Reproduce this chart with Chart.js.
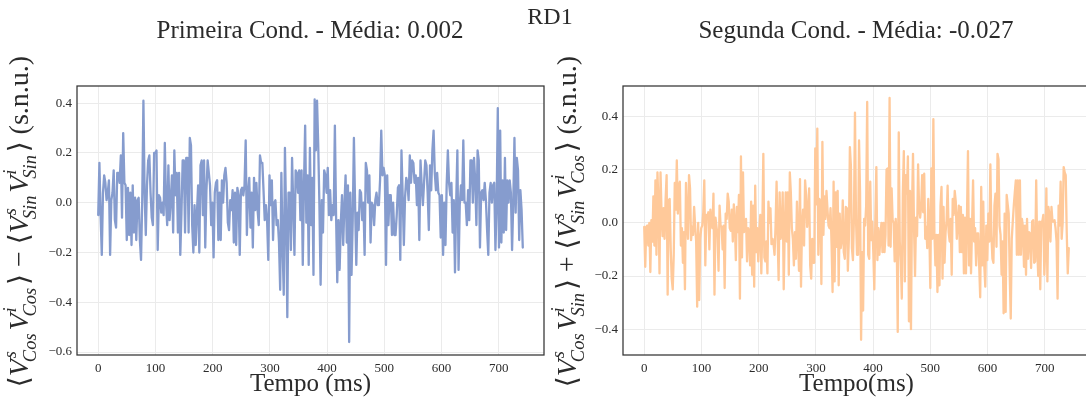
<!DOCTYPE html>
<html>
<head>
<meta charset="utf-8">
<script src="https://cdn.jsdelivr.net/npm/chart.js@4.4.1/dist/chart.umd.min.js"></script>
<style>
  html, body { margin: 0; padding: 0; background: #fff; overflow: hidden; }
  #wrap { position: relative; width: 1086px; height: 403px; }
  canvas { position: absolute; left: 0; top: 0; }
</style>
</head>
<body>
<div id="wrap">
  <canvas id="cond1" width="1098" height="403"></canvas>
  <canvas id="cond2" width="1098" height="403"></canvas>
</div>
<script>
// record length in ms, samples are evenly spaced over it
const RECORD_MS = 742;

// Primeira Cond.: <VsCos ViCos> - <VsSin ViSin>
const primeiraCond = [
  -0.05, 0.16, -0.05, -0.21, 0.04, 0.11, 0.08, 0.01, 0.04, 0.09,
  -0.21, 0.01, 0.04, 0.13, -0.07, -0.10, 0.12, 0.12, 0.08, 0.19,
  -0.06, 0.28, 0.08, 0.07, -0.15, 0.06, -0.13, 0.04, -0.17, 0.07,
  -0.12, 0.02, -0.15, 0.01, 0.02, -0.15, -0.23, 0.01, 0.41, 0.04,
  -0.13, 0.07, 0.17, 0.19, 0.04, -0.06, -0.09, 0.20, 0.20, 0.21,
  -0.19, 0.03, 0.02, -0.04, 0.00, -0.05, 0.24, 0.00, -0.09, 0.15,
  -0.07, 0.01, 0.11, -0.12, 0.21, 0.03, 0.12, -0.12, 0.12, -0.21,
  -0.04, 0.17, 0.17, -0.12, 0.18, 0.18, -0.12, 0.26, 0.23, -0.09,
  -0.20, -0.01, -0.17, -0.04, 0.07, -0.20, 0.15, 0.17, -0.05, 0.17,
  -0.18, 0.05, 0.17, 0.12, 0.07, -0.09, 0.00, -0.22, 0.04, 0.08,
  0.09, -0.15, 0.04, -0.15, 0.09, 0.00, 0.11, 0.14, 0.08, -0.08,
  -0.11, 0.01, -0.03, 0.05, -0.16,
  0.04, -0.17, 0.06, 0.03, -0.21, 0.05, 0.06, 0.03, 0.07, 0.25,
  -0.13, 0.04, 0.10, -0.10, 0.04, -0.18, 0.10, -0.03, 0.08, -0.03,
  -0.09, 0.19, 0.16, 0.16, 0.05, -0.07, -0.01, -0.07, -0.23, 0.11,
  -0.01, 0.09, -0.15, 0.00, 0.01, -0.09, -0.07, -0.16, -0.35, 0.12,
  -0.17, -0.37, 0.22, -0.05, -0.46, 0.04, 0.04, -0.19, 0.18, -0.01,
  -0.21, 0.13, 0.12, 0.04, 0.13, -0.07, 0.13, -0.25, 0.07, 0.31,
  -0.08, 0.11, -0.25, 0.22, -0.09, 0.10, -0.29, 0.415, 0.21, 0.41,
  0.23, -0.01, -0.33, 0.01, -0.12, 0.13, 0.11, 0.04, 0.14, -0.05,
  0.05, -0.07, -0.01, -0.05, 0.31, -0.05, -0.32, -0.07, -0.27, -0.08,
  0.03, -0.17, -0.01, 0.11, -0.16, 0.07, -0.56, 0.04, -0.29, -0.07,
  0.26, -0.01, -0.25, -0.04, -0.11, 0.05, 0.04, -0.07, 0.00, -0.21,
  0.16, 0.13, 0.00, 0.11, -0.16, 0.00, -0.01, -0.09, 0.01, 0.04,
  -0.01,
  -0.01, 0.09, 0.29, 0.11, 0.14, 0.11, -0.25, 0.11, -0.09, 0.03,
  0.03, -0.13, 0.00, -0.13, -0.13, -0.05, 0.06, 0.07, -0.23, 0.21,
  0.03, -0.17, 0.02, 0.10, 0.08, 0.01, 0.19, 0.08, 0.17, 0.16,
  0.08, 0.11, -0.01, 0.10, -0.15, 0.17, 0.07, -0.01, 0.08, 0.17,
  0.15, 0.04, -0.11, 0.15, 0.05, 0.21, 0.29, 0.12, 0.05, 0.12,
  0.04, 0.03, -0.14, 0.03, -0.21, 0.00, -0.17, 0.07, 0.21, 0.08,
  0.03, 0.08, -0.12, 0.01, -0.28, 0.00, 0.21, -0.27, -0.01, 0.07,
  0.01, 0.25, 0.00, 0.00, -0.09, 0.05, -0.07, 0.17, 0.17, 0.00,
  0.18, 0.09, -0.09, 0.21, 0.17, -0.18, 0.04, 0.05, 0.01, 0.08,
  0.01, -0.11, -0.21, 0.04, 0.08, 0.00, 0.07, 0.08, -0.19, -0.01,
  0.38, -0.18, 0.29, -0.16, 0.09, -0.12, 0.18, -0.11, 0.09, 0.00,
  0.09, 0.04, -0.19, 0.00, 0.26, -0.04, 0.18, 0.13, -0.15, 0.05,
  -0.03, -0.18
];

// Segunda Cond.: <VsCos ViSin> + <VsSin ViCos>
const segundaCond = [
  -0.015, -0.165, -0.015, -0.01, -0.085, 0.00, -0.185, 0.01, -0.07, 0.10,
  -0.085, 0.16, -0.12, 0.19, 0.065, -0.19, 0.19, 0.04, -0.05, 0.055,
  -0.06, 0.09, 0.18, -0.27, 0.085, 0.09, -0.095, -0.21, -0.25, -0.12,
  0.15, 0.05, 0.235, 0.035, 0.14, 0.155, -0.085, -0.02, -0.15, -0.035,
  -0.25, 0.15, 0.015, -0.06, 0.18, 0.13, -0.065, -0.015, -0.045, 0.06,
  -0.01, -0.07, -0.315, 0.00, -0.29, -0.06, -0.02, -0.01, 0.04, 0.16,
  -0.16, 0.03, 0.02, 0.04, -0.10, 0.05, 0.00, -0.02, 0.11, -0.27,
  0.02, -0.015, -0.045, -0.18, 0.065, -0.01, -0.015, -0.10, -0.01, -0.245,
  0.035, 0.015, 0.11, 0.08, -0.02, -0.03, 0.05, -0.07, 0.07, 0.00,
  -0.14, 0.06, -0.035, 0.105, -0.285, 0.25, -0.13, 0.19, -0.035, -0.01,
  0.015, -0.145, -0.02, -0.03, -0.16, 0.08, -0.195, 0.065, -0.24, 0.14,
  -0.11, -0.02, -0.145, -0.03, 0.03, -0.19, -0.015, 0.26, -0.13, -0.145,
  -0.07, -0.19, 0.08, 0.00, 0.055, -0.08, -0.06, -0.08, -0.12, -0.01,
  0.155, -0.045, -0.215, 0.115, -0.06,
  -0.035, 0.115, -0.25, -0.03, 0.115, -0.07, 0.115, -0.195, 0.19, 0.115,
  -0.02, -0.06, -0.16, -0.035, -0.135, 0.08, -0.05, -0.18, 0.165, -0.24,
  -0.01, 0.05, -0.085, 0.16, 0.105, -0.015, 0.04, 0.13, -0.16, -0.21,
  -0.06, -0.15, -0.15, 0.28, 0.07, 0.355, -0.12, 0.09, 0.08, -0.23,
  0.305, -0.045, 0.10, 0.015, 0.12, 0.05, -0.01, -0.02, 0.055, -0.08,
  -0.26, 0.155, -0.22, 0.115, -0.09, 0.12, -0.235, 0.035, -0.095, -0.065,
  0.085, -0.11, -0.135, 0.06, 0.055, -0.18, -0.06, 0.285, 0.215, -0.095,
  -0.14, 0.02, 0.415, 0.015, -0.12, -0.12, 0.31, 0.115, -0.44, -0.11,
  -0.33, 0.015, -0.01, 0.065, 0.455, -0.12, -0.135, 0.155, -0.065, 0.005,
  -0.11, -0.25, 0.015, 0.21, -0.14, -0.02, -0.12, -0.05, 0.00, -0.11,
  0.00, -0.11, -0.045, 0.20, 0.205, -0.085, 0.47, -0.09, 0.13, 0.01,
  0.00, -0.145, 0.015, -0.065, -0.41, 0.34, -0.07, -0.145, -0.285, 0.11,
  0.27, -0.22, 0.18, 0.11, 0.25, -0.37, 0.12, -0.40, 0.055, 0.26,
  -0.02, -0.20, 0.02, -0.05, 0.22, 0.055, 0.02, 0.06, 0.18, 0.04,
  0.185, -0.06, -0.015,
  -0.095, 0.09, -0.02, -0.245, 0.205, -0.06, 0.39, -0.035, -0.16, -0.045,
  -0.26, -0.045, -0.235, 0.065, 0.135, -0.21, 0.06, -0.15, -0.035, 0.01,
  0.14, -0.035, -0.07, 0.015, -0.195, 0.09, 0.03, 0.12, 0.08, -0.06,
  0.005, 0.065, -0.11, 0.06, -0.11, 0.03, -0.19, 0.02, -0.19, 0.02,
  0.27, -0.16, 0.015, -0.19, -0.01, 0.16, -0.07, -0.02, -0.16, -0.04,
  -0.04, -0.16, -0.28, 0.135, -0.16, 0.08, -0.16, -0.24, -0.01, -0.14,
  0.035, -0.07, 0.22, -0.045, -0.135, -0.15, 0.065, 0.11, -0.09, 0.26,
  0.24, -0.01, -0.045, -0.195, -0.07, -0.34, 0.035, -0.335, 0.105, 0.07,
  0.035, -0.195, -0.36, -0.06, 0.005, 0.065, 0.115, 0.16, -0.12, 0.16,
  -0.12, 0.16, -0.12, 0.015, -0.015, -0.165, -0.01, -0.195, 0.015, -0.135,
  -0.035, -0.04, -0.17, 0.005, 0.01, -0.15, -0.145, 0.16, -0.095, -0.20,
  0.005, -0.25, 0.005, 0.005, 0.03, -0.195, -0.095, 0.13, -0.22, 0.06,
  0.03, -0.07, 0.06, 0.005, 0.005, 0.01, -0.02, -0.07, -0.285, 0.065,
  -0.01, 0.155, -0.06, 0.00, 0.21, 0.19, 0.18, -0.035, -0.19, -0.095
];

const xTicks = [0, 100, 200, 300, 400, 500, 600, 700];
const primeiraYTicks = [-0.6, -0.4, -0.2, 0.0, 0.2, 0.4];
const segundaYTicks = [-0.4, -0.2, 0.0, 0.2, 0.4];

const SERIF = '"Liberation Serif", "DejaVu Serif", serif';
const TEXT = '#2b2b2b';

function toPoints(values) {
  const dt = RECORD_MS / (values.length - 1);
  return values.map((v, i) => ({ x: i * dt, y: v }));
}

function fmt(v) {
  return v.toFixed(1).replace('-', '\u2212');
}

// V with a superscript and a subscript
function V(sup, sub) { return { sup, sub }; }

function drawMathLabel(ctx, parts, base, cy, size) {
  const small = size * 0.66;
  const fUp = `${size}px ${SERIF}`;
  const fIt = `italic ${size}px ${SERIF}`;
  const fSm = `italic ${small}px ${SERIF}`;
  const items = [];
  let w = 0;
  for (const p of parts) {
    if (typeof p === 'string') {
      ctx.font = fUp;
      items.push({ p, x: w });
      w += ctx.measureText(p).width;
    } else {
      ctx.font = fIt;
      const vw = ctx.measureText('V').width;
      ctx.font = fSm;
      const sw = Math.max(ctx.measureText(p.sup).width, ctx.measureText(p.sub).width - 3);
      items.push({ p, x: w, vw });
      w += vw + sw + size * 0.1;
    }
  }
  ctx.save();
  ctx.translate(base, cy);
  ctx.rotate(-Math.PI / 2);
  ctx.textAlign = 'left';
  ctx.textBaseline = 'alphabetic';
  for (const it of items) {
    const x = it.x - w / 2;
    if (typeof it.p === 'string') {
      ctx.font = fUp;
      ctx.fillText(it.p, x, 0);
    } else {
      ctx.font = fIt;
      ctx.fillText('V', x, 0);
      ctx.font = fSm;
      ctx.fillText(it.p.sup, x + it.vw + 1, -size * 0.42);
      ctx.fillText(it.p.sub, x + it.vw - 3, size * 0.3);
    }
  }
  ctx.restore();
}

const decor = {
  id: 'decor',
  afterDraw(chart, args, o) {
    const { ctx, chartArea: a } = chart;
    ctx.save();
    ctx.strokeStyle = '#333';
    ctx.lineWidth = 1.25;
    ctx.strokeRect(a.left, a.top, a.right - a.left, a.bottom - a.top);

    ctx.fillStyle = TEXT;
    ctx.textAlign = 'center';
    ctx.textBaseline = 'middle';
    ctx.font = `25px ${SERIF}`;
    ctx.fillText(o.title, o.titleX, 31);
    if (o.suptitle) {
      ctx.font = `24px ${SERIF}`;
      ctx.fillText(o.suptitle, 550, 18);
    }
    ctx.font = `25px ${SERIF}`;
    ctx.fillText(o.xTitle, (a.left + a.right) / 2, 384);
    drawMathLabel(ctx, o.yParts, o.yBase, (a.top + a.bottom) / 2 + 1, 28);
    ctx.restore();
  }
};

function makeChart(id, values, color, yTicks, yMin, yMax, pad, deco) {
  return new Chart(document.getElementById(id), {
    type: 'line',
    data: {
      datasets: [{
        data: toPoints(values),
        borderColor: color,
        borderWidth: 2.3,
        borderJoinStyle: 'round',
        borderCapStyle: 'round',
        pointRadius: 0,
        tension: 0,
        fill: false
      }]
    },
    options: {
      responsive: false,
      animation: false,
      events: [],
      layout: { padding: pad },
      plugins: { legend: { display: false }, tooltip: { enabled: false }, decor: deco },
      scales: {
        x: {
          type: 'linear',
          min: -37.1,
          max: 779.1,
          afterBuildTicks: s => { s.ticks = xTicks.map(v => ({ value: v })); },
          afterFit: s => { s.height = 30; },
          grid: { color: '#ebebeb', lineWidth: 1, drawTicks: false },
          border: { display: false },
          ticks: {
            padding: 6,
            color: TEXT,
            font: { family: SERIF, size: 13 },
            maxRotation: 0,
            callback: v => String(v)
          }
        },
        y: {
          type: 'linear',
          min: yMin,
          max: yMax,
          afterBuildTicks: s => { s.ticks = yTicks.map(v => ({ value: v })); },
          afterFit: s => { s.width = 45; },
          grid: { color: '#ebebeb', lineWidth: 1, drawTicks: false },
          border: { display: false },
          ticks: {
            padding: 5,
            color: TEXT,
            font: { family: SERIF, size: 13 },
            callback: v => fmt(v)
          }
        }
      }
    },
    plugins: [decor]
  });
}

makeChart('cond1', primeiraCond, '#869cce', primeiraYTicks, -0.612, 0.469,
  { left: 32, top: 86, right: 554, bottom: 18 },
  {
    title: 'Primeira Cond. - Média: 0.002',
    titleX: 310,
    suptitle: 'RD1',
    xTitle: 'Tempo (ms)',
    yBase: 28,
    yParts: ['\u27E8', V('s', 'Cos'), V('i', 'Cos'), '\u27E9', ' \u2212 ', '\u27E8', V('s', 'Sin'), V('i', 'Sin'), '\u27E9', ' (s.n.u.)']
  });

makeChart('cond2', segundaCond, '#ffc99a', segundaYTicks, -0.497, 0.515,
  { left: 578, top: 86, right: 8, bottom: 18 },
  {
    title: 'Segunda Cond. - Média: -0.027',
    titleX: 856,
    xTitle: 'Tempo(ms)',
    yBase: 576,
    yParts: ['\u27E8', V('s', 'Cos'), V('i', 'Sin'), '\u27E9', ' + ', '\u27E8', V('s', 'Sin'), V('i', 'Cos'), '\u27E9', ' (s.n.u.)']
  });
</script>
</body>
</html>
